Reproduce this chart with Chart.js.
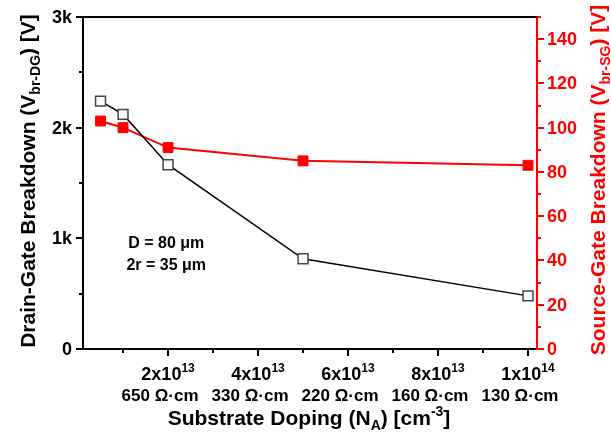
<!DOCTYPE html>
<html>
<head>
<meta charset="utf-8">
<script src="https://cdn.jsdelivr.net/npm/chart.js@4.4.1/dist/chart.umd.min.js"></script>
<style>
  html, body { margin: 0; padding: 0; background: #fff; }
</style>
</head>
<body>
<canvas id="chart" width="611" height="440"></canvas>
<script>
// data
const doping = [0.5e13, 1e13, 2e13, 5e13, 10e13];
const drainGate = [2240, 2120, 1665, 815, 480];
const sourceGate = [103, 100, 91, 85, 83];

// tick labels
const xTickValues = [2e13, 4e13, 6e13, 8e13, 10e13];
const xTickMantissa = ['2', '4', '6', '8', '1'];
const xTickExponent = ['13', '13', '13', '13', '14'];
const xTickResistivity = ['650 Ω·cm', '330 Ω·cm', '220 Ω·cm', '160 Ω·cm', '130 Ω·cm'];
const leftTickValues = [0, 1000, 2000, 3000];
const leftTickLabels = ['0', '1k', '2k', '3k'];
const rightTickValues = [0, 20, 40, 60, 80, 100, 120, 140];
const rightTickLabels = ['0', '20', '40', '60', '80', '100', '120', '140'];

const RED = '#ff0000';
const FONT = 'Arial, "Liberation Sans", sans-serif';

function font(size) {
    return 'bold ' + size + 'px ' + FONT;
}

// draw a run of text pieces (normal / sub / sup), centred on x
function drawRuns(ctx, runs, x, y) {
    let total = 0;
    runs.forEach(r => {
        ctx.font = font(r.size);
        r.w = ctx.measureText(r.t).width;
        total += r.w;
    });
    let cx = x - total / 2;
    runs.forEach(r => {
        ctx.font = font(r.size);
        ctx.fillText(r.t, cx, y + (r.dy || 0));
        cx += r.w;
    });
}

const axisDecor = {
    id: 'axisDecor',
    afterDraw(chart) {
        const ctx = chart.ctx;
        const area = chart.chartArea;
        const xs = chart.scales.x;
        const yl = chart.scales.y;
        const yr = chart.scales.y2;
        ctx.save();

        // top frame line
        ctx.strokeStyle = '#000';
        ctx.lineWidth = 2;
        ctx.beginPath();
        ctx.moveTo(area.left, area.top);
        ctx.lineTo(area.right, area.top);
        ctx.stroke();

        // left ticks
        ctx.lineWidth = 2;
        yl.ticks.forEach(t => {
            const y = Math.round(yl.getPixelForValue(t.value));
            const len = leftTickValues.includes(t.value) ? 7 : 4;
            ctx.beginPath();
            ctx.moveTo(area.left, y);
            ctx.lineTo(area.left - len, y);
            ctx.stroke();
        });

        // right ticks
        ctx.strokeStyle = RED;
        yr.ticks.forEach(t => {
            const y = Math.round(yr.getPixelForValue(t.value));
            const len = rightTickValues.includes(t.value) ? 7 : 4;
            ctx.beginPath();
            ctx.moveTo(area.right, y);
            ctx.lineTo(area.right + len, y);
            ctx.stroke();
        });

        // bottom ticks
        ctx.strokeStyle = '#000';
        xs.ticks.forEach(t => {
            const x = Math.round(xs.getPixelForValue(t.value));
            const len = xTickValues.includes(t.value) ? 7 : 4;
            ctx.beginPath();
            ctx.moveTo(x, area.bottom);
            ctx.lineTo(x, area.bottom + len);
            ctx.stroke();
        });

        // left tick labels
        ctx.fillStyle = '#000';
        ctx.font = font(18);
        ctx.textAlign = 'right';
        ctx.textBaseline = 'middle';
        leftTickValues.forEach((v, i) => {
            ctx.fillText(leftTickLabels[i], area.left - 11, yl.getPixelForValue(v) + 1);
        });

        // right tick labels
        ctx.fillStyle = RED;
        ctx.textAlign = 'left';
        rightTickValues.forEach((v, i) => {
            ctx.fillText(rightTickLabels[i], area.right + 10, yr.getPixelForValue(v) + 1);
        });

        // bottom tick labels
        ctx.fillStyle = '#000';
        ctx.textAlign = 'left';
        ctx.textBaseline = 'alphabetic';
        xTickValues.forEach((v, i) => {
            const x = xs.getPixelForValue(v);
            drawRuns(ctx, [
                { t: xTickMantissa[i] + 'x10', size: 18 },
                { t: xTickExponent[i], size: 12, dy: -8 }
            ], x, area.bottom + 31);
            drawRuns(ctx, [{ t: xTickResistivity[i], size: 17 }], x - 8, area.bottom + 52);
        });

        // x title
        drawRuns(ctx, [
            { t: 'Substrate Doping (N', size: 21 },
            { t: 'A', size: 14, dy: 5 },
            { t: ') [cm', size: 21 },
            { t: '-3', size: 14, dy: -9 },
            { t: ']', size: 21 }
        ], (area.left + area.right) / 2 - 1, 425);

        // left title
        ctx.save();
        ctx.translate(35, (area.top + area.bottom) / 2 - 2);
        ctx.rotate(-Math.PI / 2);
        drawRuns(ctx, [
            { t: 'Drain-Gate Breakdown (V', size: 21 },
            { t: 'br-DG', size: 14, dy: 5 },
            { t: ') [V]', size: 21 }
        ], 0, 0);
        ctx.restore();

        // right title
        ctx.save();
        ctx.fillStyle = RED;
        ctx.translate(605, (area.top + area.bottom) / 2 - 3);
        ctx.rotate(-Math.PI / 2);
        drawRuns(ctx, [
            { t: 'Source-Gate Breakdown (V', size: 21 },
            { t: 'br-SG', size: 14, dy: 5 },
            { t: ') [V]', size: 21 }
        ], 0, 0);
        ctx.restore();

        // annotation
        ctx.fillStyle = '#000';
        const ax = xs.getPixelForValue(1.96e13);
        drawRuns(ctx, [{ t: 'D = 80 μm', size: 16 }], ax, yl.getPixelForValue(910));
        drawRuns(ctx, [{ t: '2r = 35 μm', size: 16 }], ax, yl.getPixelForValue(712));

        ctx.restore();
    }
};

const ctx = document.getElementById('chart').getContext('2d');
new Chart(ctx, {
    type: 'line',
    data: {
        datasets: [
            {
                label: 'Drain-Gate',
                data: doping.map((x, i) => ({ x: x, y: drainGate[i] })),
                yAxisID: 'y',
                borderColor: '#000',
                borderWidth: 1.5,
                pointStyle: 'rect',
                pointRadius: 7,
                pointBackgroundColor: '#fff',
                pointBorderColor: '#444',
                pointBorderWidth: 1.5,
                order: 1
            },
            {
                label: 'Source-Gate',
                data: doping.map((x, i) => ({ x: x, y: sourceGate[i] })),
                yAxisID: 'y2',
                borderColor: RED,
                borderWidth: 2,
                pointStyle: 'rect',
                pointRadius: 7,
                pointBackgroundColor: RED,
                pointBorderColor: RED,
                pointBorderWidth: 1,
                order: 2
            }
        ]
    },
    options: {
        responsive: false,
        animation: false,
        devicePixelRatio: 1,
        layout: { padding: { top: 17, left: 0, right: 0, bottom: 0 } },
        plugins: {
            legend: { display: false },
            tooltip: { enabled: false }
        },
        scales: {
            x: {
                type: 'linear',
                position: 'bottom',
                min: 1.1e12,
                max: 1.02e14,
                grid: { display: false },
                border: { color: '#000', width: 2 },
                ticks: { display: false },
                afterBuildTicks: s => {
                    const t = [];
                    for (let k = 1; k <= 10; k++) t.push({ value: k * 1e13 });
                    s.ticks = t;
                },
                afterFit: s => { s.height = 91; }
            },
            y: {
                position: 'left',
                min: 0,
                max: 3000,
                grid: { display: false },
                border: { color: '#000', width: 2 },
                ticks: { display: false, stepSize: 500 },
                afterFit: s => { s.width = 83; }
            },
            y2: {
                position: 'right',
                min: 0,
                max: 150,
                grid: { display: false },
                border: { color: RED, width: 2 },
                ticks: { display: false, stepSize: 10 },
                afterFit: s => { s.width = 74; }
            }
        }
    },
    plugins: [axisDecor]
});
</script>
</body>
</html>
